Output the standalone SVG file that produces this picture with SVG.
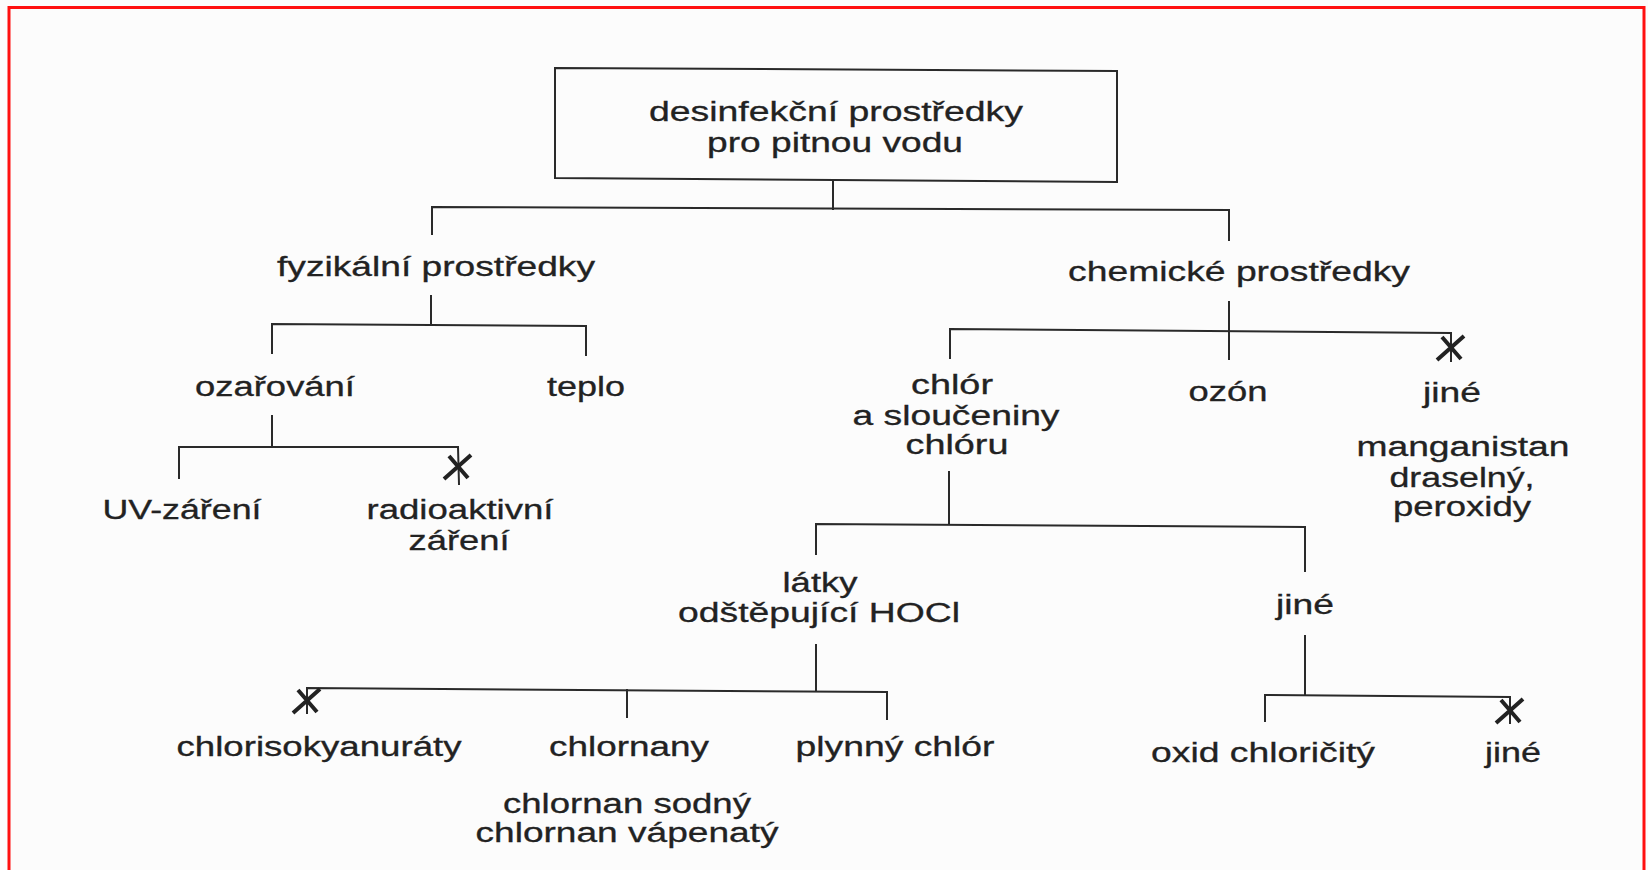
<svg xmlns="http://www.w3.org/2000/svg" xmlns:xlink="http://www.w3.org/1999/xlink" width="1648" height="870" viewBox="0 0 1648 870">
  <style>
    .t { font-family: "Liberation Sans", Arial, Helvetica, sans-serif; font-size: 27px; fill: #222; stroke: #222; stroke-width: 0.3; text-anchor: middle; }
    .c { fill: none; stroke: #2a2a2a; stroke-width: 2; stroke-linecap: square; }
    .x { fill: none; stroke: #222; stroke-width: 4; stroke-linecap: butt; }
  </style>
  <defs>
    <g id="xmark">
      <path class="x" d="M-14,12 L13,-12 M-9,-11 L10,11"/>
    </g>
  </defs>
  <rect x="0" y="0" width="1648" height="870" fill="#fcfcfc"/>
  <rect x="9" y="7.5" width="1635" height="900" fill="none" stroke="#ff1010" stroke-width="3"/>

  <g id="connectors">
    <line class="c" x1="833" y1="181" x2="833" y2="209"/>
    <polyline class="c" points="432,234 432,207 1229,210 1229,240"/>
    <line class="c" x1="431" y1="296" x2="431" y2="324"/>
    <polyline class="c" points="272,353 272,324 586,326 586,355"/>
    <line class="c" x1="272" y1="416" x2="272" y2="446"/>
    <polyline class="c" points="179,478 179,447 458,447 459,484"/>
    <line class="c" x1="1229" y1="302" x2="1229" y2="359"/>
    <polyline class="c" points="950,358 950,329 1451,333 1451,361"/>
    <line class="c" x1="949" y1="472" x2="949" y2="524"/>
    <polyline class="c" points="816,554 816,524 1305,527 1305,571"/>
    <line class="c" x1="816" y1="645" x2="816" y2="690"/>
    <polyline class="c" points="307,713 307,688 887,692 887,719"/>
    <line class="c" x1="627" y1="690" x2="627" y2="717"/>
    <line class="c" x1="1305" y1="636" x2="1305" y2="695"/>
    <polyline class="c" points="1265,721 1265,695 1510,697 1510,723"/>
    <use xlink:href="#xmark" x="458" y="467"/>
    <use xlink:href="#xmark" x="1451" y="348"/>
    <use xlink:href="#xmark" x="307" y="701"/>
    <use xlink:href="#xmark" x="1510" y="711"/>
  </g>

  <g id="root">
    <polygon points="555,68 1117,71 1117,182 555,178" fill="none" stroke="#2a2a2a" stroke-width="2"/>
    <text class="t" x="836" y="121" textLength="374" lengthAdjust="spacingAndGlyphs">desinfekční prostředky</text>
    <text class="t" x="835" y="152" textLength="256" lengthAdjust="spacingAndGlyphs">pro pitnou vodu</text>
  </g>
  <g id="fyzikalni"><text class="t" x="436" y="276" textLength="318" lengthAdjust="spacingAndGlyphs">fyzikální prostředky</text></g>
  <g id="chemicke"><text class="t" x="1239" y="281" textLength="342" lengthAdjust="spacingAndGlyphs">chemické prostředky</text></g>
  <g id="ozarovani"><text class="t" x="275" y="396" textLength="160" lengthAdjust="spacingAndGlyphs">ozařování</text></g>
  <g id="teplo"><text class="t" x="586" y="396" textLength="78" lengthAdjust="spacingAndGlyphs">teplo</text></g>
  <g id="chlor">
    <text class="t" x="952" y="394" textLength="82" lengthAdjust="spacingAndGlyphs">chlór</text>
    <text class="t" x="956" y="425" textLength="207" lengthAdjust="spacingAndGlyphs">a sloučeniny</text>
    <text class="t" x="957" y="454" textLength="103" lengthAdjust="spacingAndGlyphs">chlóru</text>
  </g>
  <g id="ozon"><text class="t" x="1228" y="401" textLength="79" lengthAdjust="spacingAndGlyphs">ozón</text></g>
  <g id="jine1">
    <text class="t" x="1452" y="402" textLength="58" lengthAdjust="spacingAndGlyphs">jiné</text>
    <text class="t" x="1463" y="456" textLength="213" lengthAdjust="spacingAndGlyphs">manganistan</text>
    <text class="t" x="1462" y="487" textLength="145" lengthAdjust="spacingAndGlyphs">draselný,</text>
    <text class="t" x="1462" y="516" textLength="138" lengthAdjust="spacingAndGlyphs">peroxidy</text>
  </g>
  <g id="uv"><text class="t" x="182" y="519" textLength="159" lengthAdjust="spacingAndGlyphs">UV-záření</text></g>
  <g id="radio">
    <text class="t" x="460" y="519" textLength="187" lengthAdjust="spacingAndGlyphs">radioaktivní</text>
    <text class="t" x="459" y="550" textLength="101" lengthAdjust="spacingAndGlyphs">záření</text>
  </g>
  <g id="latky">
    <text class="t" x="820" y="592" textLength="75" lengthAdjust="spacingAndGlyphs">látky</text>
    <text class="t" x="819" y="622" textLength="282" lengthAdjust="spacingAndGlyphs">odštěpující HOCl</text>
  </g>
  <g id="jine2"><text class="t" x="1305" y="614" textLength="58" lengthAdjust="spacingAndGlyphs">jiné</text></g>
  <g id="chlorisokyanuraty"><text class="t" x="319" y="756" textLength="285" lengthAdjust="spacingAndGlyphs">chlorisokyanuráty</text></g>
  <g id="chlornany">
    <text class="t" x="629" y="756" textLength="160" lengthAdjust="spacingAndGlyphs">chlornany</text>
    <text class="t" x="627" y="813" textLength="248" lengthAdjust="spacingAndGlyphs">chlornan sodný</text>
    <text class="t" x="627" y="842" textLength="303" lengthAdjust="spacingAndGlyphs">chlornan vápenatý</text>
  </g>
  <g id="plynny"><text class="t" x="895" y="756" textLength="199" lengthAdjust="spacingAndGlyphs">plynný chlór</text></g>
  <g id="oxid"><text class="t" x="1263" y="762" textLength="224" lengthAdjust="spacingAndGlyphs">oxid chloričitý</text></g>
  <g id="jine3"><text class="t" x="1513" y="762" textLength="56" lengthAdjust="spacingAndGlyphs">jiné</text></g>
</svg>
